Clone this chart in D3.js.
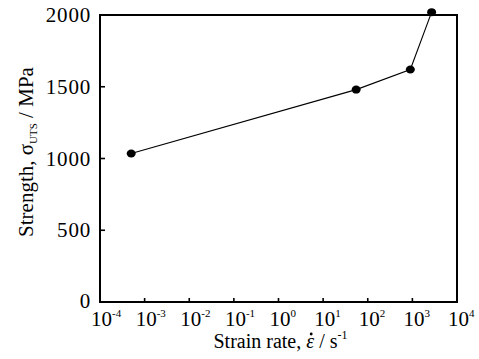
<!DOCTYPE html>
<html>
<head>
<meta charset="utf-8">
<script src="https://cdn.jsdelivr.net/npm/d3@7"></script>
<style>
  body { margin: 0; background: #fff; }
  svg text { font-family: "Liberation Serif", "DejaVu Serif", serif; fill: #000; }
  .frame { fill: none; stroke: #000; stroke-width: 2; }
  .line { fill: none; stroke: #000; stroke-width: 1.1; }
</style>
</head>
<body>
<div id="chart"></div>
<script>
var W = 479, H = 359;
var margin = {top: 15, right: 22, bottom: 57, left: 100};
var width = W - margin.left - margin.right,
    height = H - margin.top - margin.bottom;

// strain rate (1/s) and UTS (MPa)
var strainRate = [5e-4, 55, 900, 2700];
var strength = [1035, 1480, 1620, 2020];

var xExponents = [-4, -3, -2, -1, 0, 1, 2, 3, 4];
var yTicks = [0, 500, 1000, 1500, 2000];

var svg = d3.select("#chart").append("svg")
    .attr("width", W)
    .attr("height", H);

var g = svg.append("g")
    .attr("transform", "translate(" + margin.left + "," + margin.top + ")");

var x = d3.scaleLog().domain([1e-4, 1e4]).range([0, width]);
var y = d3.scaleLinear().domain([0, 2000]).range([height, 0]);

// inward ticks
g.selectAll("line.xtick")
    .data(xExponents.slice(1, -1))
  .enter().append("line")
    .attr("x1", function(d) { return x(Math.pow(10, d)); })
    .attr("x2", function(d) { return x(Math.pow(10, d)); })
    .attr("y1", height)
    .attr("y2", height - 4)
    .attr("stroke", "#000")
    .attr("stroke-width", 1.6);

g.selectAll("line.ytick")
    .data(yTicks.slice(1, -1))
  .enter().append("line")
    .attr("x1", 0)
    .attr("x2", 5)
    .attr("y1", function(d) { return y(d); })
    .attr("y2", function(d) { return y(d); })
    .attr("stroke", "#000")
    .attr("stroke-width", 1.6);

g.append("rect")
    .attr("class", "frame")
    .attr("x", 0)
    .attr("y", 0)
    .attr("width", width)
    .attr("height", height);

// x tick labels: 10^n
var xl = g.selectAll("text.xl")
    .data(xExponents)
  .enter().append("text")
    .attr("x", function(d) { return x(Math.pow(10, d)) - 9; })
    .attr("y", height + 24)
    .attr("font-size", 21);
xl.append("tspan").text("10");
xl.append("tspan")
    .attr("dy", -9)
    .attr("font-size", 11)
    .text(function(d) { return d < 0 ? "-" + (-d) : d; });

// y tick labels
g.selectAll("text.yl")
    .data(yTicks)
  .enter().append("text")
    .attr("x", -9)
    .attr("y", function(d) { return y(d) + (d === 0 ? 6 : 7); })
    .attr("text-anchor", "end")
    .attr("font-size", 21)
    .attr("letter-spacing", 0.8)
    .text(function(d) { return d; });

// data line + markers
var line = d3.line()
    .x(function(d, i) { return x(strainRate[i]); })
    .y(function(d) { return y(d); });

g.append("path")
    .datum(strength)
    .attr("class", "line")
    .attr("d", line);

g.selectAll("ellipse.pt")
    .data(strength)
  .enter().append("ellipse")
    .attr("cx", function(d, i) { return x(strainRate[i]); })
    .attr("cy", function(d) { return y(d); })
    .attr("rx", 4.5)
    .attr("ry", 4)
    .attr("fill", "#000");

// x axis title
var xt = svg.append("text")
    .attr("x", margin.left + width / 2 + 2)
    .attr("y", 348)
    .attr("text-anchor", "middle")
    .attr("font-size", 20);
xt.append("tspan").text("Strain rate, ");
xt.append("tspan").attr("font-style", "italic").text("\u03B5");
xt.append("tspan").text(" / s");
xt.append("tspan").attr("dy", -9).attr("font-size", 12).text("-1");

// dot over epsilon
var xtNode = xt.node();
var eIdx = "Strain rate, ".length;
var p0 = xtNode.getStartPositionOfChar(eIdx),
    p1 = xtNode.getEndPositionOfChar(eIdx);
svg.append("circle")
    .attr("cx", (p0.x + p1.x) / 2 + 1)
    .attr("cy", p0.y - 14)
    .attr("r", 1.4)
    .attr("fill", "#000");

// y axis title
var yt = svg.append("text")
    .attr("transform", "translate(33," + (margin.top + 137) + ") rotate(-90)")
    .attr("text-anchor", "middle")
    .attr("font-size", 21);
yt.append("tspan").text("Strength, \u03C3");
yt.append("tspan").attr("dy", 4).attr("font-size", 11).text("UTS");
yt.append("tspan").attr("dy", -4).text(" / MPa");
</script>
</body>
</html>
